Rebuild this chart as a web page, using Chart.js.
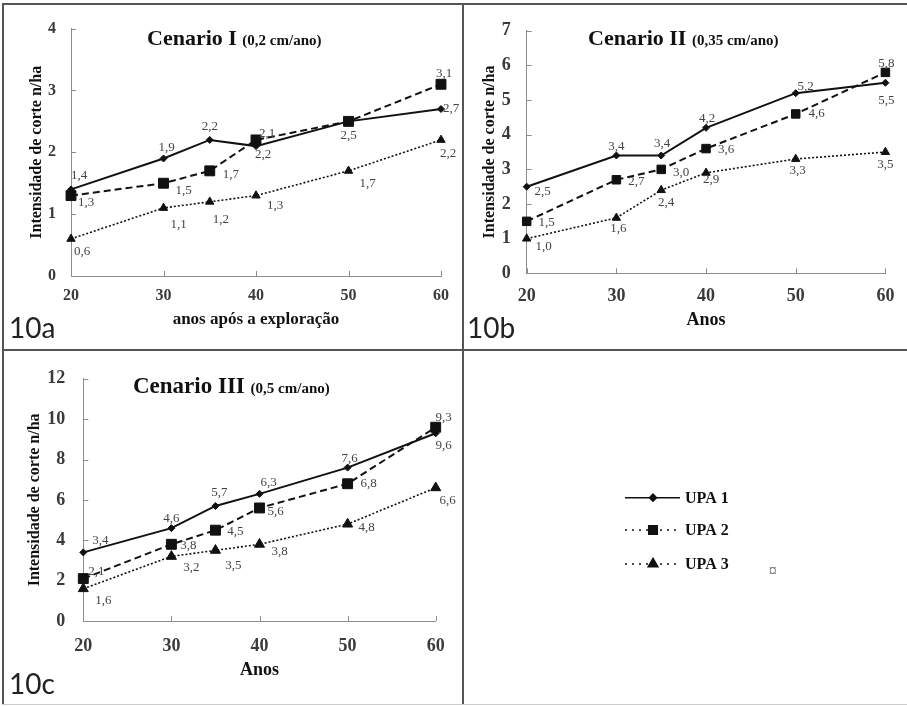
<!DOCTYPE html>
<html>
<head>
<meta charset="utf-8">
<title>Intensidade de corte por cenario</title>
<script src="https://cdn.jsdelivr.net/npm/chart.js@4.4.0/dist/chart.umd.min.js"></script>
<style>
  body { margin: 0; background: #fff; }
  #page { position: relative; width: 907px; height: 706px; overflow: hidden; background: #fff; }
  canvas { position: absolute; }
  .rule { position: absolute; background: #555; }
  .tag { position: absolute; font-family: Lato, "Open Sans", sans-serif; font-size: 28px; line-height: 28px; color: #222; }
</style>
</head>
<body>
<div id="page">
  <canvas id="chartA" width="460" height="346" style="left:3px;top:4px"></canvas>
  <canvas id="chartB" width="444" height="346" style="left:463px;top:4px"></canvas>
  <canvas id="chartC" width="904" height="355" style="left:3px;top:350px"></canvas>

  <div class="rule" style="left:2px;top:3px;width:905px;height:2px"></div>
  <div class="rule" style="left:2px;top:3px;width:2px;height:702px"></div>
  <div class="rule" style="left:462px;top:3px;width:2px;height:702px"></div>
  <div class="rule" style="left:2px;top:349px;width:905px;height:2px"></div>
  <div class="rule" style="left:2px;top:704px;width:905px;height:1px;background:#ccc"></div>

  <div class="tag" style="left:9px;top:313px">10a</div>
  <div class="tag" style="left:467px;top:313px">10b</div>
  <div class="tag" style="left:9px;top:669px">10c</div>
</div>
<script>
const anos = [20, 30, 35, 40, 50, 60];
const xTicks = [20, 30, 40, 50, 60];
const upaNames = ['UPA 1', 'UPA 2', 'UPA 3'];

// Cenario I (0,2 cm/ano)
const c1Upa1 = [1.4, 1.9, 2.2, 2.1, 2.5, 2.7];
const c1Upa2 = [1.3, 1.5, 1.7, 2.2, 2.5, 3.1];
const c1Upa3 = [0.6, 1.1, 1.2, 1.3, 1.7, 2.2];
const c1Ticks = [0, 1, 2, 3, 4];

// Cenario II (0,35 cm/ano)
const c2Upa1 = [2.5, 3.4, 3.4, 4.2, 5.2, 5.5];
const c2Upa2 = [1.5, 2.7, 3.0, 3.6, 4.6, 5.8];
const c2Upa3 = [1.0, 1.6, 2.4, 2.9, 3.3, 3.5];
const c2Ticks = [0, 1, 2, 3, 4, 5, 6, 7];

// Cenario III (0,5 cm/ano)
const c3Upa1 = [3.4, 4.6, 5.7, 6.3, 7.6, 9.3];
const c3Upa2 = [2.1, 3.8, 4.5, 5.6, 6.8, 9.6];
const c3Upa3 = [1.6, 3.2, 3.5, 3.8, 4.8, 6.6];
const c3Ticks = [0, 2, 4, 6, 8, 10, 12];

const serif = '"Liberation Serif", "Times New Roman", serif';
const ink = '#111';

// line + marker look of each UPA
const upaStyles = [
  { dash: [], width: 2, marker: 'rectRot', legendDash: [] },
  { dash: [7, 4], width: 2, marker: 'rect', legendDash: [2, 5] },
  { dash: [2, 2], width: 1.6, marker: 'triangle', legendDash: [2, 5] },
];

const fmt = v => v.toFixed(1).replace('.', ',');

function toPoints(vals) {
  return anos.map((x, i) => ({ x: x, y: vals[i] }));
}

function upaDatasets(series, sizes) {
  return series.map((vals, k) => ({
    label: upaNames[k],
    data: toPoints(vals),
    showLine: true,
    clip: false,
    tension: 0,
    borderColor: ink,
    backgroundColor: ink,
    borderWidth: upaStyles[k].width,
    borderDash: upaStyles[k].dash,
    pointStyle: upaStyles[k].marker,
    pointRadius: sizes[k],
    pointBackgroundColor: ink,
    pointBorderColor: ink,
    pointBorderWidth: 1,
  }));
}

// inward tick marks, value labels, panel title and the legend
const decor = {
  id: 'decor',
  beforeDatasetsDraw(chart) {
    const ctx = chart.ctx, area = chart.chartArea;
    const xs = chart.scales.x, ys = chart.scales.y;
    ctx.save();
    ctx.strokeStyle = '#8c8c8c';
    ctx.lineWidth = 1;
    ctx.beginPath();
    xs.ticks.forEach(t => {
      const px = Math.round(xs.getPixelForValue(t.value)) + 0.5;
      ctx.moveTo(px, area.bottom);
      ctx.lineTo(px, area.bottom - 5);
    });
    ys.ticks.forEach(t => {
      const py = Math.round(ys.getPixelForValue(t.value)) + 0.5;
      ctx.moveTo(area.left, py);
      ctx.lineTo(area.left + 5, py);
    });
    ctx.stroke();
    ctx.restore();
  },
  afterDatasetsDraw(chart, args, opts) {
    const ctx = chart.ctx;
    ctx.save();

    ctx.fillStyle = '#444';
    ctx.font = '13px ' + serif;
    ctx.textAlign = 'center';
    ctx.textBaseline = 'middle';
    chart.data.datasets.forEach((ds, di) => {
      chart.getDatasetMeta(di).data.forEach((pt, i) => {
        const off = opts.offsets[di][i];
        if (!off) return;
        ctx.fillText(fmt(ds.data[i].y), pt.x + off[0], pt.y + off[1]);
      });
    });

    const t = opts.title;
    ctx.fillStyle = ink;
    ctx.textAlign = 'left';
    ctx.textBaseline = 'alphabetic';
    ctx.font = 'bold ' + t.size + 'px ' + serif;
    ctx.fillText(t.main, t.x, t.y);
    const w = ctx.measureText(t.main + ' ').width;
    ctx.font = 'bold ' + t.subSize + 'px ' + serif;
    ctx.fillText(t.sub, t.x + w, t.y);

    const lg = opts.legend;
    if (lg) {
      chart.data.datasets.forEach((ds, k) => {
        const y = lg.ys[k];
        ctx.strokeStyle = ink;
        ctx.lineWidth = 1.6;
        ctx.setLineDash(upaStyles[k].legendDash);
        ctx.beginPath();
        ctx.moveTo(lg.x1, y);
        ctx.lineTo(lg.x2, y);
        ctx.stroke();
        ctx.setLineDash([]);
        ctx.fillStyle = ink;
        Chart.helpers.drawPoint(ctx, {
          pointStyle: ds.pointStyle, radius: lg.radius[k], rotation: 0, borderWidth: 1
        }, lg.xm, y);
        ctx.font = 'bold 16px ' + serif;
        ctx.textBaseline = 'middle';
        ctx.fillText(ds.label, lg.xt, y + 1);
      });
      ctx.fillStyle = '#666';
      ctx.font = '16px ' + serif;
      ctx.textAlign = 'center';
      ctx.fillText('\u00a4', lg.mark[0], lg.mark[1]);
    }
    ctx.restore();
  }
};

function makeChart(id, p) {
  return new Chart(document.getElementById(id), {
    type: 'scatter',
    data: { datasets: upaDatasets(p.series, p.markers) },
    options: {
      responsive: false,
      animation: false,
      events: [],
      layout: { padding: { left: 0, top: p.area.top, right: p.area.right, bottom: 0 } },
      plugins: {
        legend: { display: false },
        tooltip: { enabled: false },
        decor: { offsets: p.offsets, title: p.title, legend: p.legend || null },
      },
      scales: {
        x: {
          type: 'linear', min: 20, max: 60,
          afterBuildTicks: s => { s.ticks = xTicks.map(v => ({ value: v })); },
          afterFit: s => { s.height = p.area.xHeight; },
          grid: { display: false, drawTicks: false },
          border: { display: true, color: '#8c8c8c', width: 1 },
          ticks: { padding: p.xPad, color: '#3a3a3a', font: { family: serif, size: p.tickSize, weight: 'bold' } },
          title: {
            display: true, text: p.xTitle, color: ink,
            font: { family: serif, size: p.xTitleSize, weight: 'bold' },
            padding: { top: 0, bottom: p.xTitlePad },
          },
        },
        y: {
          min: p.yTicks[0], max: p.yTicks[p.yTicks.length - 1],
          afterBuildTicks: s => { s.ticks = p.yTicks.map(v => ({ value: v })); },
          afterFit: s => { s.width = p.area.yWidth; },
          grid: { display: false, drawTicks: false },
          border: { display: true, color: '#8c8c8c', width: 1 },
          ticks: { padding: p.yPad, color: '#3a3a3a', font: { family: serif, size: p.tickSize, weight: 'bold' } },
          title: {
            display: true, text: 'Intensidade de corte n/ha', color: ink,
            font: { family: serif, size: 16, weight: 'bold' },
            padding: { top: p.yTitlePad, bottom: 0 },
          },
        },
      },
    },
    plugins: [decor],
  });
}

makeChart('chartA', {
  series: [c1Upa1, c1Upa2, c1Upa3],
  markers: [3.5, 7, 4.8],
  yTicks: c1Ticks,
  area: { top: 24, right: 22, yWidth: 68, xHeight: 74 },
  tickSize: 16, xPad: 10, yPad: 15,
  xTitle: 'anos após a exploração', xTitleSize: 17, xTitlePad: 20,
  yTitlePad: 24,
  title: { main: 'Cenario I', sub: '(0,2 cm/ano)', size: 22, subSize: 15, x: 144, y: 41 },
  offsets: [
    [[8, -14], [3, -11], [0, -13], [11, -13], null, [10, 0]],
    [[15, 7], [20, 7], [21, 4], [7, 15], [0, 14], [3, -11]],
    [[11, 13], [15, 17], [11, 18], [19, 10], [19, 13], [7, 14]],
  ],
});

makeChart('chartB', {
  series: [c2Upa1, c2Upa2, c2Upa3],
  markers: [3.5, 6, 4.8],
  yTicks: c2Ticks,
  area: { top: 25.3, right: 20.3, yWidth: 63.7, xHeight: 76.7 },
  tickSize: 18, xPad: 12.6, yPad: 16,
  xTitle: 'Anos', xTitleSize: 18, xTitlePad: 18.7,
  yTitlePad: 17.4,
  title: { main: 'Cenario II', sub: '(0,35 cm/ano)', size: 22, subSize: 15, x: 125, y: 41 },
  offsets: [
    [[16, 5], [0, -9], [1, -12], [1, -9], [10, -7], [1, 18]],
    [[20, 1], [20, 2], [20, 3], [20, 1], [21, 0], [1, -9]],
    [[17, 8], [2, 11], [5, 12], [5, 7], [2, 12], [0, 13]],
  ],
});

makeChart('chartC', {
  series: [c3Upa1, c3Upa2, c3Upa3],
  markers: [3.5, 7, 5.8],
  yTicks: c3Ticks,
  area: { top: 27.3, right: 471.3, yWidth: 80.3, xHeight: 84 },
  tickSize: 18, xPad: 15, yPad: 18,
  xTitle: 'Anos', xTitleSize: 18, xTitlePad: 23.7,
  yTitlePad: 22.4,
  title: { main: 'Cenario III', sub: '(0,5 cm/ano)', size: 23, subSize: 15, x: 130, y: 43 },
  offsets: [
    [[17, -12], [0, -10], [4, -13], [9, -11], [2, -9], [8, -16]],
    [[13, -7], [17, 1], [20, 1], [16, 4], [21, 0], [8, 18]],
    [[20, 12], [20, 11], [18, 15], [20, 7], [19, 3], [12, 13]],
  ],
  legend: {
    x1: 622, x2: 677, xm: 650, xt: 682,
    ys: [147.7, 180, 214],
    radius: [3.5, 6, 5.5],
    mark: [769.7, 221.7],
  },
});
</script>
</body>
</html>
